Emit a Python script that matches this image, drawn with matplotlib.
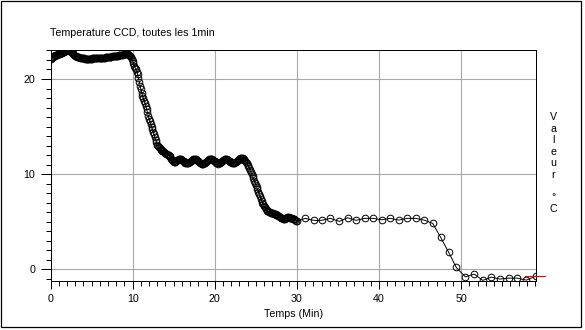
import matplotlib
matplotlib.use("Agg")
import matplotlib.pyplot as plt
from matplotlib.patches import Rectangle
from matplotlib.ticker import MultipleLocator
import numpy as np

plt.rcParams["font.family"] = ["Liberation Sans", "DejaVu Sans"]

# dense logging, every 0.1 min from 0 to 30 min (one row = one minute)
t_dense = [round(0.1 * i, 1) for i in range(301)]
v_dense = [
    22.10, 22.18, 22.25, 22.33, 22.40, 22.45, 22.50, 22.52, 22.55, 22.58,
    22.60, 22.65, 22.70, 22.72, 22.75, 22.80, 22.85, 22.90, 22.95, 22.98,
    23.00, 23.03, 23.05, 23.02, 22.95, 22.88, 22.80, 22.70, 22.60, 22.52,
    22.45, 22.40, 22.35, 22.32, 22.30, 22.28, 22.25, 22.22, 22.20, 22.20,
    22.20, 22.18, 22.15, 22.15, 22.15, 22.15, 22.15, 22.15, 22.15, 22.15,
    22.15, 22.18, 22.20, 22.20, 22.20, 22.20, 22.20, 22.20, 22.20, 22.20,
    22.20, 22.22, 22.25, 22.25, 22.25, 22.25, 22.25, 22.28, 22.30, 22.30,
    22.30, 22.32, 22.35, 22.35, 22.35, 22.38, 22.40, 22.40, 22.40, 22.42,
    22.45, 22.45, 22.45, 22.48, 22.50, 22.52, 22.55, 22.55, 22.55, 22.58,
    22.60, 22.60, 22.60, 22.60, 22.60, 22.55, 22.50, 22.40, 22.30, 22.10,
    21.90, 21.65, 21.40, 21.20, 21.00, 20.75, 20.50, 20.10, 19.70, 19.30,
    18.90, 18.55, 18.20, 17.95, 17.70, 17.45, 17.20, 16.85, 16.50, 16.15,
    15.80, 15.55, 15.30, 15.00, 14.70, 14.45, 14.20, 13.90, 13.60, 13.35,
    13.10, 12.95, 12.80, 12.70, 12.60, 12.52, 12.45, 12.38, 12.30, 12.25,
    12.20, 12.15, 12.10, 12.05, 12.00, 11.88, 11.75, 11.60, 11.45, 11.38,
    11.30, 11.28, 11.30, 11.38, 11.45, 11.52, 11.60, 11.62, 11.60, 11.55,
    11.50, 11.42, 11.35, 11.28, 11.20, 11.18, 11.15, 11.15, 11.20, 11.25,
    11.30, 11.38, 11.45, 11.50, 11.55, 11.58, 11.60, 11.55, 11.50, 11.42,
    11.35, 11.28, 11.20, 11.15, 11.10, 11.08, 11.10, 11.15, 11.20, 11.28,
    11.35, 11.42, 11.50, 11.55, 11.60, 11.62, 11.60, 11.55, 11.50, 11.42,
    11.35, 11.28, 11.20, 11.15, 11.10, 11.12, 11.15, 11.22, 11.30, 11.38,
    11.45, 11.50, 11.55, 11.58, 11.60, 11.55, 11.50, 11.42, 11.35, 11.30,
    11.25, 11.20, 11.15, 11.15, 11.20, 11.25, 11.30, 11.38, 11.45, 11.52,
    11.60, 11.65, 11.70, 11.68, 11.65, 11.58, 11.50, 11.40, 11.30, 11.15,
    11.00, 10.80, 10.60, 10.40, 10.20, 10.00, 9.80, 9.55, 9.30, 9.10,
    8.90, 8.65, 8.40, 8.15, 7.90, 7.65, 7.40, 7.20, 7.00, 6.82,
    6.65, 6.50, 6.35, 6.25, 6.15, 6.08, 6.00, 5.98, 5.95, 5.92,
    5.90, 5.88, 5.85, 5.80, 5.75, 5.70, 5.65, 5.60, 5.55, 5.50,
    5.45, 5.40, 5.35, 5.32, 5.30, 5.32, 5.35, 5.40, 5.45, 5.45,
    5.45, 5.42, 5.40, 5.38, 5.35, 5.32, 5.30, 5.22, 5.15, 5.10,
    5.05,
]

# then roughly one reading per minute
t_min = [31.01, 32.03, 33.04, 34.06, 35.15, 36.18, 37.22, 38.25, 39.26, 40.35,
         41.36, 42.39, 43.43, 44.46, 45.47, 46.53, 47.50, 48.48, 49.40, 50.50,
         51.60, 52.62, 53.67, 54.69, 55.79, 56.83, 57.93, 59.07]
v_min = [5.34, 5.13, 5.13, 5.34, 5.02, 5.40, 5.13, 5.34, 5.34, 5.19,
         5.34, 5.16, 5.34, 5.34, 5.16, 4.81, 3.34, 1.76, 0.18, -0.81,
         -0.53, -1.19, -0.84, -1.05, -0.95, -0.95, -1.16, -0.74]

t_all = np.array(t_dense + t_min)
v_all = np.array(v_dense + v_min)

W, H = 585, 330
fig = plt.figure(figsize=(W / 100, H / 100), dpi=100)
fig.patch.set_facecolor("white")

ax = fig.add_axes([50.5 / W, 1 - 281 / H, 485.2 / W, 231 / H])
ax.set_xlim(0, 59.07)
ax.set_ylim(-1.25, 23.05)

ax.xaxis.set_major_locator(MultipleLocator(10))
ax.xaxis.set_minor_locator(MultipleLocator(1))
ax.yaxis.set_major_locator(MultipleLocator(10))
ax.yaxis.set_minor_locator(MultipleLocator(1))
ax.tick_params(which="major", length=7, width=0.72, labelsize=7.7, color="black")
ax.tick_params(axis="y", which="major", pad=4)
ax.tick_params(axis="x", which="major", length=6, pad=3)
ax.tick_params(which="minor", length=3.5, width=0.72, color="black")
for s in ax.spines.values():
    s.set_linewidth(0.72)
    s.set_color("black")

ax.grid(True, which="major", color="#a8a8a8", linewidth=0.8, zorder=0)
ax.axhline(0, color="#e00000", linewidth=0.8, snap=True, antialiased=False,
           linestyle=(0, (6, 2, 2, 2)), zorder=1)

ax.plot(t_all, v_all, color="black", linewidth=0.7, marker="o", markersize=4.8,
        markerfacecolor="none", markeredgecolor="black", markeredgewidth=0.7,
        zorder=3)

# cursor on the last reading
ax.plot([57.8, 60.25], [v_min[-1], v_min[-1]], color="#ff0000", linewidth=0.8,
        clip_on=False, zorder=4)

ax.set_xlabel("Temps (Min)", fontsize=7.7, labelpad=4)
fig.text(50 / W, 1 - 33 / H, "Temperature CCD, toutes les 1min",
         fontsize=7.7, ha="left", va="center")

# vertical unit label, one letter under the other:
# V starts near y=112, the C baseline sits near y=212
side = fig.text(553.5 / W, 1 - 112.3 / H, "V\na\nl\ne\nu\nr\n\n°\nC",
                fontsize=7.7, ha="center", va="top", multialignment="center")
renderer = fig.canvas.get_renderer()


def block_height(ls):
    side.set_linespacing(ls)
    return side.get_window_extent(renderer).height


target = (211.7 - 112.3) + 0.212 * 7.7 * 100 / 72
h1, h2 = block_height(0.8), block_height(1.4)
side.set_linespacing(0.8 + (target - h1) * 0.6 / (h2 - h1))

fig.patches.append(Rectangle((1 / W, 1 - 327 / H), 580 / W, 326 / H,
                             transform=fig.transFigure, fill=False,
                             edgecolor="black", linewidth=0.9))

fig.savefig("out.png", dpi=100, facecolor="white")
